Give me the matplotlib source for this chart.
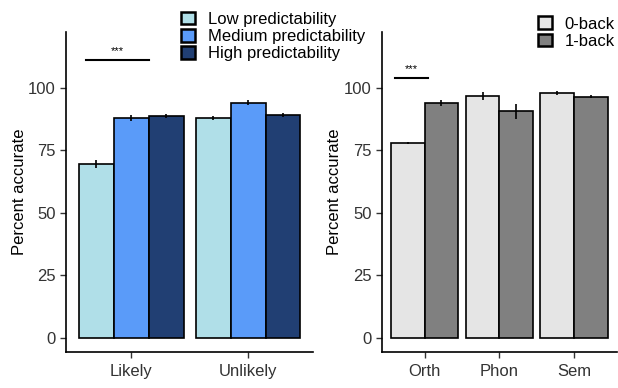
import numpy as np
import matplotlib.pyplot as plt
from matplotlib.patches import Patch

plt.rcParams['font.family'] = ['Liberation Sans', 'DejaVu Sans']

# left panel: predictability by likelihood
lik_groups = ['Likely', 'Unlikely']
pred_levels = ['Low predictability', 'Medium predictability', 'High predictability']
pred_means = [[69.5, 88.0, 88.8],
              [88.0, 94.0, 89.3]]
pred_err = [[1.5, 1.2, 0.8],
            [0.8, 1.0, 0.8]]
pred_colors = ['#b0dfe8', '#5a9bf9', '#213f73']

# right panel: n-back by task
tasks = ['Orth', 'Phon', 'Sem']
back_levels = ['0-back', '1-back']
back_means = [[78.0, 94.0],
              [96.8, 90.6],
              [98.0, 96.4]]
back_err = [[0.5, 1.3],
            [1.5, 3.0],
            [0.8, 0.6]]
back_colors = ['#e5e5e5', '#808080']

fig = plt.figure(figsize=(6.18, 3.88), dpi=100)
ax1 = fig.add_axes([0.107, 0.093, 0.400, 0.825])
ax2 = fig.add_axes([0.618, 0.093, 0.380, 0.825])


def dodge_bars(ax, means, errs, colors, width=0.9):
    means = np.array(means)
    errs = np.array(errs)
    n_grp, n_lvl = means.shape
    w = width / n_lvl
    for j in range(n_lvl):
        x = np.arange(1, n_grp + 1) - width / 2 + w * (j + 0.5)
        ax.bar(x, means[:, j], width=w, color=colors[j], edgecolor='black',
               linewidth=1.2, zorder=2)
        ax.errorbar(x, means[:, j], yerr=errs[:, j], fmt='none',
                    ecolor='black', elinewidth=1.2, capsize=0, zorder=3)
    return w


def style(ax, labels, xlim):
    ax.set_xlim(*xlim)
    ax.set_ylim(-5.6, 122.4)
    ax.set_xticks(np.arange(1, len(labels) + 1))
    ax.set_xticklabels(labels, fontsize=12)
    ax.set_yticks([0, 25, 50, 75, 100])
    ax.tick_params(axis='both', labelsize=12, length=4, width=1,
                   color='#333333', labelcolor='#333333')
    ax.tick_params(axis='x', pad=5)
    ax.set_ylabel('Percent accurate', fontsize=12, labelpad=1)
    for s in ['top', 'right']:
        ax.spines[s].set_visible(False)
    for s in ['left', 'bottom']:
        ax.spines[s].set_linewidth(1.2)


def legend(ax, colors, labels, anchor):
    ax.legend(handles=[Patch(facecolor=c, edgecolor='black', linewidth=1.8, label=l)
                       for c, l in zip(colors, labels)],
              loc='upper left', bbox_to_anchor=anchor, frameon=False,
              fontsize=12, handlelength=0.85, handleheight=0.8, handletextpad=0.75,
              labelspacing=0.12, borderaxespad=0, borderpad=0)


dodge_bars(ax1, pred_means, pred_err, pred_colors)
style(ax1, lik_groups, (0.44, 2.56))
x0, x1 = 1 - 0.45 + 0.06, 1 + 0.15
ax1.plot([x0, x1], [111, 111], color='black', lw=1.5)
ax1.text((x0 + x1) / 2, 112.5, '***', ha='center', va='bottom', fontsize=8)
legend(ax1, pred_colors, pred_levels, (0.466, 1.063))

dodge_bars(ax2, back_means, back_err, back_colors)
style(ax2, tasks, (0.43, 3.57))
x0, x1 = 1 - 0.45 + 0.05, 1 + 0.05
ax2.plot([x0, x1], [104, 104], color='black', lw=1.5)
ax2.text((x0 + x1) / 2, 105.5, '***', ha='center', va='bottom', fontsize=8)
legend(ax2, back_colors, back_levels, (0.664, 1.048))

fig.savefig('out.png', dpi=100)
